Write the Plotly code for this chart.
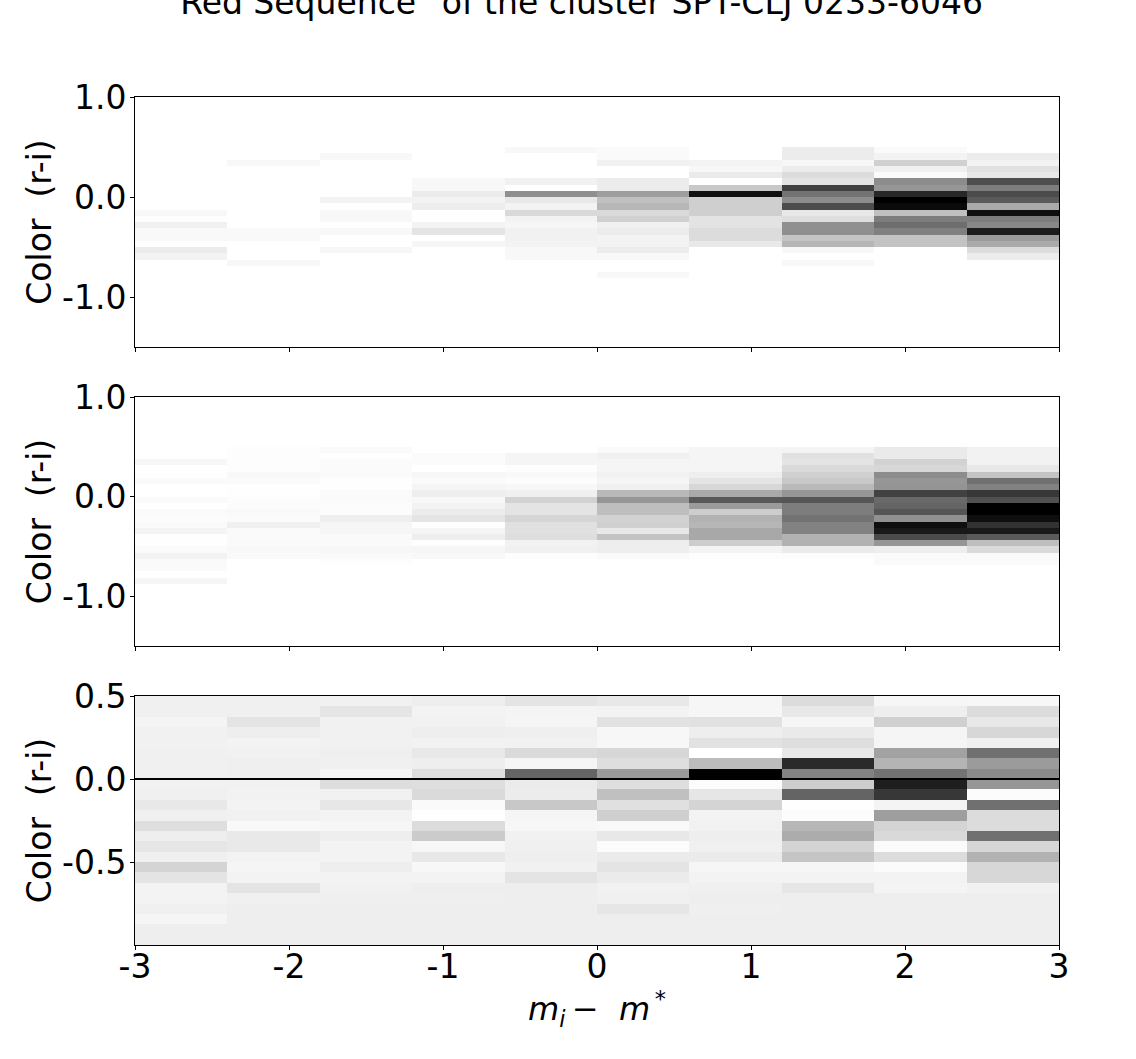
import numpy as np
import plotly.graph_objects as go
from plotly.subplots import make_subplots

W, H = 1136, 1059
TITLE = "\"Red Sequence\"\u00a0of the cluster SPT-CLJ 0233-6046"
YTITLE = "Color\u00a0\u00a0(r-i)"
XTITLE = "<i>m</i><sub><i>i</i></sub>\u2009\u2212\u00a0\u00a0<i>m</i><sup>\u2009*</sup>"

x_edges = [-3.0, -2.4, -1.8, -1.2, -0.6, 0.0, 0.6, 1.2, 1.8, 2.4, 3.0]
y_edges_colour = np.linspace(-1.5, 1.0, 41)
y_edges_diff = np.linspace(-1.0, 0.5, 25)
FIRST_ROW = 8  # top two panels: rows above this one are empty

# Darkness (0 = white, 255 = black) per magnitude bin, rows from the top, from colour 0.5 downward
top_c0 = [0,0,0,0,0,0,0,0,0,0,7,1,14,6,6,1,19,12,0,0,0,0]
top_c1 = [0,0,7,0,0,0,0,0,0,0,0,0,0,6,6,0,0,0,8,0,0,0]
top_c2 = [0,7,0,0,0,0,0,0,12,0,7,7,0,7,0,0,8,0,0,0,0,0]
top_c3 = [0,0,0,0,0,7,7,19,12,18,0,0,12,27,0,9,0,0,0,0,0,0]
top_c4 = [7,0,0,0,0,14,0,112,23,12,38,12,9,14,14,12,7,7,0,0,0,0]
top_c5 = [5,5,14,0,0,19,19,97,63,72,37,47,15,19,12,12,19,7,0,0,7,0]
top_c6 = [0,0,12,8,21,0,55,239,48,48,48,28,28,35,35,22,0,0,0,0,0,0]
top_c7 = [19,19,8,19,35,27,190,140,115,179,23,33,112,112,59,73,7,0,7,0,0,0]
top_c8 = [5,12,47,15,5,115,105,215,255,245,63,130,145,127,60,60,0,0,0,0,0,0]
top_c9 = [0,19,12,30,23,177,130,180,165,85,240,130,120,227,100,85,35,19,0,0,0,0]

mid_c0 = [0,0,8,0,1,5,0,0,5,0,5,3,5,11,1,1,5,12,5,5,0,9]
mid_c1 = [2,2,2,2,7,5,1,1,3,3,6,4,15,5,5,5,7,5,0,0,0,0]
mid_c2 = [5,1,4,4,4,1,1,5,5,3,3,17,9,9,5,5,8,5,2,0,0,0]
mid_c3 = [0,4,4,0,8,5,10,17,7,12,19,27,1,10,17,1,9,7,0,0,0,0]
mid_c4 = [0,10,10,2,6,3,8,15,45,27,27,42,31,31,33,13,15,2,0,0,0,0]
mid_c5 = [5,15,10,10,13,10,15,70,105,65,65,45,47,23,60,17,17,5,0,0,0,0]
mid_c6 = [10,10,10,10,17,27,40,85,167,100,50,77,73,87,87,50,11,2,0,0,0,0]
mid_c7 = [11,30,27,37,47,55,70,105,170,130,130,140,125,125,77,77,20,3,0,0,0,0]
mid_c8 = [21,21,45,40,115,105,107,190,150,155,170,110,240,230,180,105,17,5,5,0,0,0]
mid_c9 = [13,13,13,23,60,143,125,200,175,255,255,240,205,230,165,65,37,5,5,0,0,0]

diff_c0 = [15,15,11,14,14,15,15,15,14,15,23,15,33,17,25,15,43,27,12,12,15,10,17,17]
diff_c1 = [15,15,27,17,12,14,16,16,14,13,12,14,6,22,22,12,10,12,27,15,17,17,17,17]
diff_c2 = [14,26,14,14,14,16,15,10,34,14,24,12,9,17,12,12,17,12,14,16,17,17,17,17]
diff_c3 = [17,12,14,17,13,23,17,33,33,37,5,1,35,52,8,23,8,12,17,16,17,17,17,17]
diff_c4 = [27,11,10,16,14,37,10,155,20,19,55,10,8,14,15,16,14,27,17,17,17,17,17,17]
diff_c5 = [23,12,29,8,8,40,33,100,33,63,31,48,6,23,3,20,27,20,14,15,25,17,17,17]
diff_c6 = [9,9,30,17,29,0,67,255,3,25,43,12,14,17,15,20,9,12,15,17,16,17,17,17]
diff_c7 = [35,23,9,21,33,23,213,125,50,155,1,3,72,83,43,58,9,12,25,17,17,17,17,17]
diff_c8 = [9,17,47,10,10,93,75,140,225,200,11,97,43,38,4,35,4,12,11,17,17,17,17,17]
diff_c9 = [8,35,23,40,15,143,100,117,105,3,143,35,35,143,41,77,40,40,14,17,17,17,17,17]

top_cols = [top_c0, top_c1, top_c2, top_c3, top_c4, top_c5, top_c6, top_c7, top_c8, top_c9]
mid_cols = [mid_c0, mid_c1, mid_c2, mid_c3, mid_c4, mid_c5, mid_c6, mid_c7, mid_c8, mid_c9]
diff_cols = [diff_c0, diff_c1, diff_c2, diff_c3, diff_c4, diff_c5, diff_c6, diff_c7, diff_c8, diff_c9]


def colour_grid(cols):
    grid = np.zeros((40, len(cols)))
    for c, col in enumerate(cols):
        grid[FIRST_ROW:FIRST_ROW + len(col), c] = col
    return grid[::-1]


GREYS = [[0, "#ffffff"], [1, "#000000"]]
PANELS = [
    (colour_grid(top_cols), y_edges_colour, [-1.5, 1.0], [1.0, 0.0, -1.0], ["1.0", "0.0", "-1.0"]),
    (colour_grid(mid_cols), y_edges_colour, [-1.5, 1.0], [1.0, 0.0, -1.0], ["1.0", "0.0", "-1.0"]),
    (np.array(diff_cols).T[::-1], y_edges_diff, [-1.0, 0.5], [0.5, 0.0, -0.5], ["0.5", "0.0", "-0.5"]),
]
PLOT_TOP, PLOT_BOTTOM = 97.0, 945.0
PLOT_H = PLOT_BOTTOM - PLOT_TOP
PLOT_TOPS = [(97, 347), (397, 646), (696, 945)]
FONT = "DejaVu Sans"

fig = make_subplots(rows=3, cols=1, shared_xaxes=False)
for i, (z, ye, yr, tv, tt) in enumerate(PANELS, start=1):
    fig.add_trace(go.Heatmap(z=z, x=x_edges, y=ye, zmin=0, zmax=255, colorscale=GREYS,
                             showscale=False, hoverinfo="skip"), row=i, col=1)
    top, bot = PLOT_TOPS[i - 1]
    fig.update_yaxes(row=i, col=1, domain=[(PLOT_BOTTOM - bot) / PLOT_H, (PLOT_BOTTOM - top) / PLOT_H],
                     range=yr, tickmode="array",
                     tickvals=tv, ticktext=tt, ticks="outside", ticklen=4, tickwidth=1, tickcolor="black",
                     ticklabelstandoff=-3,
                     showline=True, linecolor="black", linewidth=1, mirror=True, showgrid=False, zeroline=False,
                     tickfont=dict(family=FONT, size=33, color="black"),
                     title=dict(text=YTITLE, font=dict(family=FONT, size=33, color="black"), standoff=0))
    fig.update_xaxes(row=i, col=1, range=[-3, 3], tickmode="array", tickvals=[-3, -2, -1, 0, 1, 2, 3],
                     ticktext=["-3", "-2", "-1", "0", "1", "2", "3"], showticklabels=(i == 3),
                     ticks="outside", ticklen=4, tickwidth=1, tickcolor="black",
                     ticklabelstandoff=-12,
                     showline=True, linecolor="black", linewidth=1, mirror=True, showgrid=False, zeroline=False,
                     tickfont=dict(family=FONT, size=33, color="black"))
fig.update_xaxes(row=3, col=1, title=dict(text=XTITLE, font=dict(family=FONT, size=32, color="black"), standoff=1))
fig.add_hline(y=0, row=3, col=1, line=dict(color="black", width=2))

fig.add_annotation(text=TITLE, xref="paper", yref="paper", x=(574 - 135) / 924, y=1 + 94 / PLOT_H,
                   yanchor="middle", xanchor="center", showarrow=False,
                   font=dict(family=FONT, size=33, color="black"))
fig.update_layout(width=W, height=H, margin=dict(l=135, r=W - 1059, t=PLOT_TOP, b=H - PLOT_BOTTOM),
                  paper_bgcolor="white", plot_bgcolor="white", font=dict(family=FONT, color="black"))
fig.write_html("out.html", config={"displayModeBar": False},
               post_script="document.body.style.margin='0';document.body.style.overflow='hidden';")
